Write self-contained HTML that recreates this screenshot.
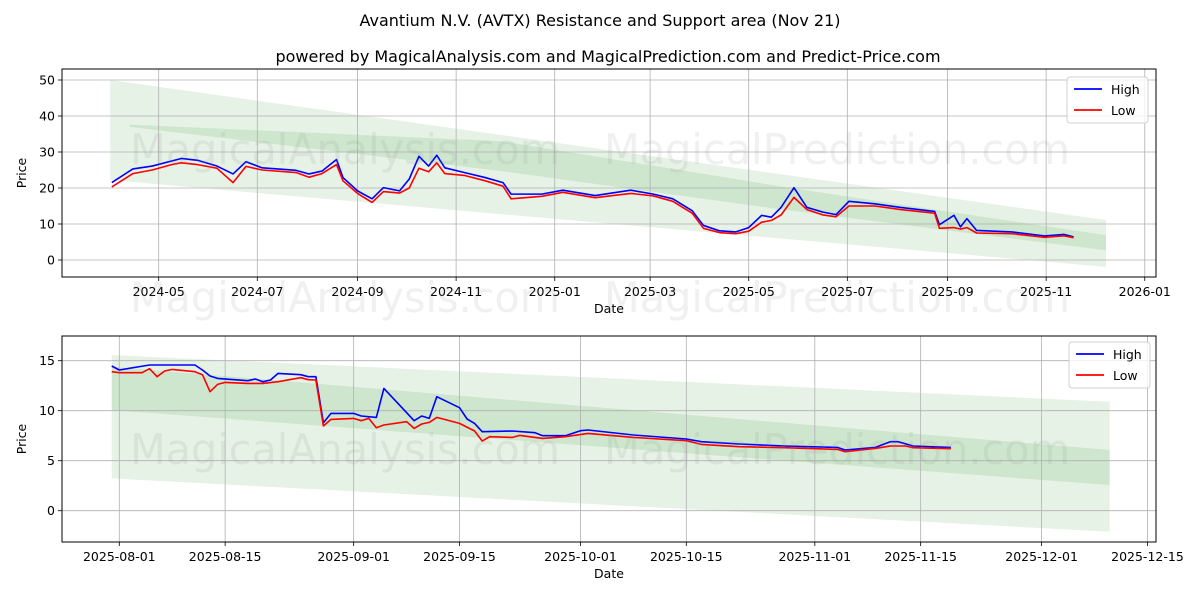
<!DOCTYPE html>
<html><head><meta charset="utf-8">
<style>
html,body{margin:0;padding:0;background:#fff;}
svg{display:block;font-family:"DejaVu Sans","Liberation Sans",sans-serif;}
</style></head>
<body>
<svg id="chart" width="1200" height="600" viewBox="0 0 1200 600" xmlns="http://www.w3.org/2000/svg">
<rect width="1200" height="600" fill="#fff"/>
<text x="600" y="26" text-anchor="middle" font-size="16">Avantium N.V. (AVTX) Resistance and Support area (Nov 21)</text>
<text x="608" y="62" text-anchor="middle" font-size="16">powered by MagicalAnalysis.com and MagicalPrediction.com and Predict-Price.com</text>
<g id="top"></g>
<g id="bot"></g>
<g fill="#888" fill-opacity="0.13" font-size="42">
<text x="130" y="164" textLength="430" lengthAdjust="spacingAndGlyphs">MagicalAnalysis.com</text>
<text x="604" y="164" textLength="466" lengthAdjust="spacingAndGlyphs">MagicalPrediction.com</text>
<text x="130" y="312" textLength="430" lengthAdjust="spacingAndGlyphs">MagicalAnalysis.com</text>
<text x="604" y="312" textLength="466" lengthAdjust="spacingAndGlyphs">MagicalPrediction.com</text>
<text x="130" y="464" textLength="430" lengthAdjust="spacingAndGlyphs">MagicalAnalysis.com</text>
<text x="604" y="464" textLength="466" lengthAdjust="spacingAndGlyphs">MagicalPrediction.com</text>
</g>
</svg>
<script>
// ---- top chart data (days since 2024-04-01) ----
const topDays = [1,14,26,38,44,54,66,76,84,94,115,123,131,140,144,153,162,169,179,185,191,197,202,207,219,232,243,248,267,280,300,322,336,348,360,367,377,387,395,403,409,415,423,431,441,449,457,473,489,510,513,522,526,530,536,558,578,590,596];
const topHigh = [21.5,25.3,26.1,27.5,28.2,27.7,26.1,23.9,27.3,25.6,24.9,23.9,24.7,27.9,22.9,19.2,17,20.1,19.2,22.5,28.8,26.1,29.1,25.6,24.3,22.9,21.5,18.3,18.3,19.4,17.9,19.4,18.3,17,13.7,9.6,8.1,7.8,9,12.4,11.9,14.6,20.1,14.6,13.3,12.6,16.3,15.6,14.6,13.5,9.8,12.4,9.2,11.5,8.2,7.8,6.7,7.1,6.4];
const topLow = [20.3,24,25,26.5,27,26.5,25.5,21.5,26,25,24.3,23,24,26.5,22,18.5,16,19,18.6,20,25.5,24.5,27,24,23.5,22,20.5,17,17.7,18.8,17.3,18.5,17.8,16.3,13,8.8,7.6,7.3,8,10.5,11,12.5,17.4,14,12.5,12,15,15,14,13,8.8,9,8.6,9,7.5,7.3,6.3,6.7,6.2];
const topBandDays = [0,616];
const topOuterUpper = [50,11.1];
const topOuterLower = [22.2,-1.9];
const topInnerDays = [12,242,421,616];
const topInnerUpper = [37.6,33,20,6.9];
const topInnerLower = [37.0,24.7,13.7,2.7];
const topTickDays = [30,91,153,214,275,334,395,456,518,579,640];
const topTickLabels = ["2024-05","2024-07","2024-09","2024-11","2025-01","2025-03","2025-05","2025-07","2025-09","2025-11","2026-01"];
const topYTicks = [0,10,20,30,40,50];

// ---- bottom chart data (days since 2025-08-01) ----
const botHighDays = [-1,0,4,10,11,12,13,17,18,19,20,21,24,25,26,27,28,31,32,34,35,39,40,41,42,45,46,47,48,52,55,56,59,61,62,68,75,77,82,88,95,96,100,102,103,105,110];
const botHigh = [14.47,14.07,14.57,14.57,14.07,13.47,13.23,13.0,13.17,12.9,13.07,13.73,13.6,13.4,13.4,8.8,9.73,9.73,9.47,9.33,12.23,9.0,9.47,9.23,11.4,10.3,9.17,8.73,7.9,7.97,7.8,7.5,7.5,8.0,8.07,7.57,7.17,6.9,6.67,6.47,6.33,6.07,6.33,6.9,6.9,6.47,6.33];
const botLowDays = [-1,0,3,4,5,6,7,10,11,12,13,14,17,19,21,24,25,26,27,28,31,32,33,34,35,38,39,40,41,42,45,47,48,49,52,53,56,59,62,68,75,77,82,88,95,96,100,102,104,105,110];
const botLow = [13.9,13.8,13.8,14.2,13.4,13.97,14.13,13.9,13.6,11.9,12.63,12.83,12.73,12.73,12.9,13.3,13.1,13.07,8.47,9.13,9.23,9.0,9.23,8.3,8.57,8.9,8.23,8.67,8.83,9.33,8.73,7.97,6.97,7.4,7.33,7.53,7.23,7.4,7.73,7.33,7.0,6.63,6.4,6.3,6.13,5.9,6.23,6.47,6.47,6.3,6.2];
const botBandDays = [-1,131];
const botOuterUpper = [15.57,10.9];
const botOuterLower = [3.23,-2.1];
const botInnerUpper = [14.4,6.07];
const botInnerLower = [10.07,2.57];
const botTickDays = [0,14,31,45,61,75,92,106,122,136];
const botTickLabels = ["2025-08-01","2025-08-15","2025-09-01","2025-09-15","2025-10-01","2025-10-15","2025-11-01","2025-11-15","2025-12-01","2025-12-15"];
const botYTicks = [0,5,10,15];

const NS = "http://www.w3.org/2000/svg";
function mk(parent, tag, attrs){const e=document.createElementNS(NS,tag);for(const k in attrs)e.setAttribute(k,attrs[k]);parent.appendChild(e);return e;}

function drawPanel(g, cfg){
  const {L,R,T,B,xs,ys} = cfg;
  const outer = mk(g,'path',{d:bandPath(cfg.bandDays,cfg.outerU,cfg.outerL,xs,ys),fill:'#008000','fill-opacity':'0.1'});
  
  
  const inner = mk(g,'path',{d:bandPath(cfg.innerDays,cfg.innerU,cfg.innerL,xs,ys),fill:'#008000','fill-opacity':'0.1'});
  
  
  cfg.xTicks.forEach((d,i)=>{
    const x=xs(d);
    const gl=mk(g,'line',{x1:x,x2:x,y1:T,y2:B,stroke:'#b0b0b0','stroke-width':0.8});
    
    
    mk(g,'line',{x1:x,x2:x,y1:B,y2:B+4,stroke:'#000','stroke-width':0.8});
    const t=mk(g,'text',{x:x,y:B+19,'text-anchor':'middle','font-size':12.5});
    t.textContent=cfg.xLabels[i];
    
    
  });
  cfg.yTicks.forEach(v=>{
    const y=ys(v);
    const gl=mk(g,'line',{x1:L,x2:R,y1:y,y2:y,stroke:'#b0b0b0','stroke-width':0.8});
    
    
    mk(g,'line',{x1:L-4,x2:L,y1:y,y2:y,stroke:'#000','stroke-width':0.8});
    const t=mk(g,'text',{x:L-7,y:y+4.5,'text-anchor':'end','font-size':12.5});
    t.textContent=String(v);
    
    
  });
  const hi=mk(g,'polyline',{points:cfg.hDays.map((d,i)=>xs(d)+','+ys(cfg.high[i])).join(' '),fill:'none',stroke:'#0000ff','stroke-width':1.6,'stroke-linejoin':'round'});
  
  
  const lo=mk(g,'polyline',{points:cfg.lDays.map((d,i)=>xs(d)+','+ys(cfg.low[i])).join(' '),fill:'none',stroke:'#ff0000','stroke-width':1.6,'stroke-linejoin':'round'});
  
  
  const fr=mk(g,'rect',{x:L,y:T,width:R-L,height:B-T,fill:'none',stroke:'#000','stroke-width':1});
  
  
  const xl=mk(g,'text',{x:(L+R)/2,y:B+36,'text-anchor':'middle','font-size':12.5});
  xl.textContent='Date';
  
  
  const yl=mk(g,'text',{x:0,y:0,'text-anchor':'middle','font-size':12.5,transform:`translate(26,${(T+B)/2}) rotate(-90)`});
  yl.textContent='Price';
  
  
  const lg=mk(g,'g',{});
  
  
  const lx=cfg.legX, ly=cfg.legY;
  mk(lg,'rect',{x:lx,y:ly,width:81,height:46,rx:3,fill:'#fff','fill-opacity':0.8,stroke:'#d0d0d0'});
  mk(lg,'line',{x1:lx+7,x2:lx+35,y1:ly+12,y2:ly+12,stroke:'#0000ff','stroke-width':1.8});
  mk(lg,'line',{x1:lx+7,x2:lx+35,y1:ly+33,y2:ly+33,stroke:'#ff0000','stroke-width':1.8});
  const t1=mk(lg,'text',{x:lx+44,y:ly+17,'font-size':12.5});t1.textContent='High';
  
  
  const t2=mk(lg,'text',{x:lx+44,y:ly+38,'font-size':12.5});t2.textContent='Low';
  
  
}
function bandPath(days,U,Lo,xs,ys){
  let p='M'+days.map((d,i)=>xs(d)+','+ys(U[i])).join(' L');
  for(let i=days.length-1;i>=0;i--)p+=' L'+xs(days[i])+','+ys(Lo[i]);
  return p+' Z';
}
drawPanel(document.getElementById('top'),{
  L:62,R:1156,T:69,B:277,
  xs:d=>110.2+1.6165*d, ys:v=>260-3.6*v,
  bandDays:topBandDays,outerU:topOuterUpper,outerL:topOuterLower,
  innerDays:topInnerDays,innerU:topInnerUpper,innerL:topInnerLower,
  xTicks:topTickDays,xLabels:topTickLabels,yTicks:topYTicks,
  hDays:topDays,high:topHigh,lDays:topDays,low:topLow,legX:1067,legY:77
});
drawPanel(document.getElementById('bot'),{
  L:62,R:1156,T:336,B:542,
  xs:d=>119.3+7.56*d, ys:v=>510.7-10*v,
  bandDays:botBandDays,outerU:botOuterUpper,outerL:botOuterLower,
  innerDays:botBandDays,innerU:botInnerUpper,innerL:botInnerLower,
  xTicks:botTickDays,xLabels:botTickLabels,yTicks:botYTicks,
  hDays:botHighDays,high:botHigh,lDays:botLowDays,low:botLow,legX:1069,legY:342
});
</script>
</body></html>
